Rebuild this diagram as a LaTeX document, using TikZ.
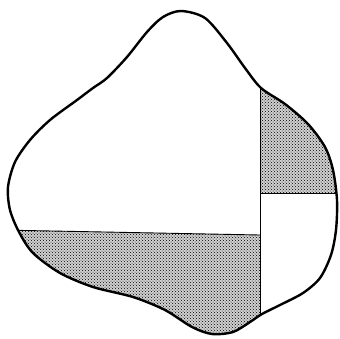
\documentclass[tikz,border=0pt]{standalone}
\usetikzlibrary{patterns}

\tikzset{
  outline/.style={line width=2.4pt, line join=round},
  divider/.style={line width=0.9pt},
  stipple/.style={fill=black!18, postaction={pattern=crosshatch dots, pattern color=black}},
}

\newcommand\blobshape{plot[smooth cycle, tension=0.5] coordinates {
  (181,11) (205,18) (227,43) (245,68) (261,88) (285,104) (308,124)
  (325,147) (333,170) (337,200) (336,230) (331,255) (320,278)
  (303,293) (280,305) (262,314) (250,322) (233,332) (212,334)
  (192,327) (165,310) (133,297) (93,287) (60,273) (33,253) (19,232)
  (10,210) (8,187) (15,162) (30,140) (50,120) (77,100) (93,88)
  (107,78) (127,57) (147,32) (163,17)}}

\begin{document}
\begin{tikzpicture}[x=1pt, y=-1pt]
  \useasboundingbox (0,0) rectangle (340,338);

  % ends of the dividing lines
  \coordinate (vtop) at (260,80);
  \coordinate (vbot) at (260,330);
  \coordinate (rmid) at (260,193);
  \coordinate (rend) at (345,193);
  \coordinate (lend) at (0,230);
  \coordinate (lmid) at (260,235);

  % shaded parts
  \begin{scope}
    \clip \blobshape;
    \fill[stipple] (rmid) rectangle (345,0);
    \fill[stipple] (lend) -- (lmid) -- (260,345) -- (0,345) -- cycle;
    \draw[divider] (vtop) -- (vbot);
    \draw[divider] (rmid) -- (rend);
    \draw[divider] (lend) -- (lmid);
  \end{scope}

  % outline
  \draw[outline] \blobshape;
\end{tikzpicture}
\end{document}
